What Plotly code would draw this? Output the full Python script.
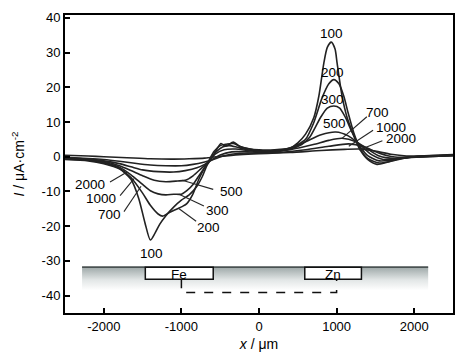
import plotly.graph_objects as go

# ---------------- data ----------------
heights = ["100", "200", "300", "500", "700", "1000", "2000"]

x_100 = [-2500, -2200, -2000, -1800, -1650, -1550, -1470, -1400, -1340, -1280, -1200, -1100, -1000, -900, -800, -730, -670, -620,
         -560, -490, -430, -330, -250, -130, 0, 200, 400, 500, 600, 707, 771, 835, 880, 931, 980, 1006, 1070, 1135, 1180, 1240,
         1307, 1400, 1520, 1650, 1800, 2000, 2200, 2500]
y_100 = [-0.8, -1.2, -2.0, -3.5, -6.5, -12, -19, -24, -22, -19.5, -17, -14.5, -12.5, -11, -8.5, -5.7, -2.5, -0.8,
         1.5, 3.8, 3.0, 4.2, 3.0, 2.3, 2.0, 2.0, 2.5, 4.0, 6.5, 11.3, 17.4, 26.9, 31.5, 33.0, 31.0, 27.0, 17.5, 11.3, 8.5, 5.0,
         1.8, -0.8, -2.2, -1.6, -0.6, 0.0, 0.3, 0.6]

x_200 = [-2500, -2200, -2000, -1800, -1650, -1500, -1400, -1300, -1240, -1150, -1050, -985, -930, -857, -770, -707, -643,
         -580, -500, -420, -330, -230, -120, 0, 200, 400, 500, 600, 700, 814, 900, 965, 1030, 1093, 1150, 1220, 1300, 1400,
         1550, 1700, 1900, 2100, 2500]
y_200 = [-0.6, -1.0, -1.8, -3.3, -6.0, -10.5, -14, -16.5, -17.1, -16, -15, -14.3, -13.5, -11, -6.2, -3.4, -1.0,
         1.5, 3.2, 3.6, 3.8, 2.8, 2.2, 1.8, 1.8, 2.5, 3.5, 5.0, 9.5, 17.0, 21.0, 22.2, 21.0, 17.4, 12.5, 7.0, 2.5, -0.5,
         -1.8, -1.3, -0.3, 0.2, 0.5]

x_300 = [-2500, -2200, -2000, -1800, -1650, -1500, -1400, -1300, -1200, -1100, -1000, -930, -850, -780, -710, -640,
         -560, -470, -380, -280, -150, 0, 200, 400, 550, 650, 793, 880, 965, 1040, 1114, 1200, 1300, 1400, 1550, 1700,
         1900, 2200, 2500]
y_300 = [-0.5, -0.9, -1.6, -3.0, -5.2, -8.0, -9.8, -10.7, -11, -10.8, -10.8, -9.8, -8.0, -5.7, -3.4, -1.2,
         1.2, 2.8, 3.2, 2.7, 2.0, 1.6, 1.6, 2.2, 3.5, 5.5, 11.3, 14.0, 14.6, 14.0, 11.3, 7.0, 3.0, 0.3, -1.2, -1.0,
         -0.2, 0.2, 0.4]

x_500 = [-2500, -2200, -2000, -1800, -1650, -1500, -1350, -1200, -1050, -950, -850, -750, -650, -560, -450, -300,
         -150, 0, 200, 400, 600, 800, 990, 1150, 1300, 1450, 1600, 1800, 2100, 2500]
y_500 = [-0.4, -0.8, -1.4, -2.6, -4.0, -5.5, -6.8, -7.2, -7.0, -6.8, -5.5, -3.5, -1.4, 0.8, 2.0, 2.2,
         1.8, 1.5, 1.6, 2.4, 4.3, 6.3, 7.1, 6.0, 3.5, 0.6, -0.8, -0.5, 0.0, 0.4]

x_700 = [-2500, -2200, -2000, -1800, -1650, -1500, -1300, -1100, -950, -800, -700, -620, -500, -350, -150, 0, 200,
         400, 700, 900, 1070, 1250, 1400, 1550, 1750, 2000, 2500]
y_700 = [-0.3, -0.7, -1.2, -2.0, -2.9, -3.8, -4.3, -4.4, -4.0, -3.2, -2.2, -1.1, 0.5, 1.4, 1.4, 1.3, 1.4,
         2.0, 3.5, 4.7, 5.3, 4.3, 2.2, 0.2, -0.5, -0.1, 0.3]

x_1000 = [-2500, -2200, -2000, -1800, -1600, -1400, -1200, -1000, -850, -700, -600, -450, -250, 0, 300, 600, 900,
          1157, 1350, 1550, 1750, 2000, 2500]
y_1000 = [-0.2, -0.5, -0.8, -1.3, -1.9, -2.4, -2.6, -2.6, -2.2, -1.5, -0.9, 0.3, 1.0, 1.1, 1.3, 2.0, 3.0,
          3.7, 2.9, 1.0, -0.1, -0.1, 0.3]

x_2000 = [-2500, -2200, -2000, -1700, -1400, -1100, -900, -700, -500, -250, 0, 400, 800, 1100, 1300, 1500, 1700,
          1900, 2200, 2500]
y_2000 = [0.4, 0.2, 0.0, -0.3, -0.6, -0.7, -0.6, -0.4, 0.1, 0.6, 0.9, 1.2, 1.8, 2.1, 2.2, 1.6, 0.7,
          0.2, 0.2, 0.4]

curves_x = [x_100, x_200, x_300, x_500, x_700, x_1000, x_2000]
curves_y = [y_100, y_200, y_300, y_500, y_700, y_1000, y_2000]

x_tickvals = [-2000, -1000, 0, 1000, 2000]
x_ticktext = ["-2000", "-1000", "0", "1000", "2000"]
y_tickvals = [-40, -30, -20, -10, 0, 10, 20, 30, 40]
y_ticktext = ["-40", "-30", "-20", "-10", "0", "10", "20", "30", "40"]

# curve labels: (text, label x, label y, leader from (x0,y0) to (x1,y1) or None)
labels = [
    ("100", 940, 35.6, None),
    ("200", 945, 24.3, None),
    ("300", 950, 16.6, None),
    ("500", 975, 9.6, None),
    ("700", 1530, 12.7, (1390, 11.5, 1070, 5.3)),
    ("1000", 1700, 8.5, (1470, 7.6, 1157, 3.0)),
    ("2000", 1830, 5.1, (1590, 4.6, 1290, 1.9)),
    ("2000", -2180, -8.1, (-1920, -7.3, -1700, -4.4)),
    ("1000", -2040, -11.9, (-1790, -11.2, -1610, -6.3)),
    ("700", -1930, -16.7, (-1740, -15.8, -1520, -8.5)),
    ("100", -1390, -28.0, None),
    ("500", -360, -10.0, (-590, -9.4, -990, -6.8)),
    ("300", -540, -15.4, (-710, -14.2, -1030, -10.8)),
    ("200", -650, -20.5, (-810, -18.6, -1030, -15.0)),
]

# substrate sketch (electrode positions)
substrate_x = [-2280, 2180]
substrate_top = -31.8
substrate_bottom = -38.5
fe_box = [-1465, -590]
zn_box = [590, 1320]
box_bottom = -35.3
wire_y = -39.1
wire_x = [-1000, 1000]

# ---------------- figure ----------------
FONT = "Liberation Sans, Arial, sans-serif"
fig = go.Figure()

fig.add_trace(go.Scatter(
    x=[substrate_x[0], substrate_x[1], substrate_x[1], substrate_x[0], substrate_x[0]],
    y=[substrate_top, substrate_top, substrate_bottom, substrate_bottom, substrate_top],
    fill="toself", mode="lines", line=dict(width=0),
    fillgradient=dict(type="vertical",
                      colorscale=[[0, "#ffffff"], [0.45, "#e2e6e6"], [1, "#9ea8a8"]]),
    hoverinfo="skip", showlegend=False))
fig.add_trace(go.Scatter(
    x=substrate_x, y=[substrate_top, substrate_top], mode="lines",
    line=dict(color="#4a5252", width=1.6), hoverinfo="skip", showlegend=False))

for name, xs, ys in zip(heights, curves_x, curves_y):
    fig.add_trace(go.Scatter(
        x=xs, y=ys, mode="lines", name=name,
        line=dict(color="#222222", width=1.6, shape="spline", smoothing=0.7),
        showlegend=False))

shapes = []
for bx in (fe_box, zn_box):
    shapes.append(dict(type="rect", xref="x", yref="y", x0=bx[0], x1=bx[1],
                       y0=box_bottom, y1=substrate_top,
                       line=dict(color="#111111", width=1.5), fillcolor="white"))
shapes.append(dict(type="path", xref="x", yref="y",
                   path=f"M {wire_x[0]} {box_bottom} L {wire_x[0]} {wire_y} L {wire_x[1]} {wire_y} L {wire_x[1]} {box_bottom}",
                   line=dict(color="#111111", width=1.5, dash="dash")))

LABEL_SIZE = 13.5
annotations = []
for text, lx, ly, lead in labels:
    annotations.append(dict(x=lx, y=ly, xref="x", yref="y", text=text, showarrow=False,
                            font=dict(family=FONT, size=LABEL_SIZE, color="black")))
    if lead is not None:
        shapes.append(dict(type="line", xref="x", yref="y", x0=lead[0], y0=lead[1], x1=lead[2], y1=lead[3],
                           line=dict(color="#262626", width=1.1)))

annotations.append(dict(x=(fe_box[0] + fe_box[1]) / 2, y=(substrate_top + box_bottom) / 2 - 0.3, xref="x", yref="y",
                        text="Fe", showarrow=False, font=dict(family=FONT, size=LABEL_SIZE, color="black")))
annotations.append(dict(x=(zn_box[0] + zn_box[1]) / 2, y=(substrate_top + box_bottom) / 2 - 0.3, xref="x", yref="y",
                        text="Zn", showarrow=False, font=dict(family=FONT, size=LABEL_SIZE, color="black")))

fig.update_layout(
    width=465, height=361,
    margin=dict(l=65, r=10, t=10, b=48),
    paper_bgcolor="white", plot_bgcolor="white",
    font=dict(family=FONT, size=13, color="black"),
    shapes=shapes, annotations=annotations,
    showlegend=False,
)
fig.update_xaxes(
    range=[-2500, 2500], tickvals=x_tickvals, ticktext=x_ticktext,
    ticks="inside", ticklen=5, tickwidth=1.5, tickcolor="black",
    tickfont=dict(family=FONT, size=13),
    showline=True, linecolor="black", linewidth=2, mirror=True,
    showgrid=False, zeroline=False,
    title=dict(text="<i>x</i> / μm", standoff=7, font=dict(family=FONT, size=14)),
)
fig.update_yaxes(
    range=[-45, 40.8], tickvals=y_tickvals, ticktext=y_ticktext,
    ticks="inside", ticklen=5, tickwidth=1.5, tickcolor="black",
    tickfont=dict(family=FONT, size=13),
    showline=True, linecolor="black", linewidth=2, mirror=True,
    showgrid=False, zeroline=False,
    title=dict(text="<i>I</i> / μA·cm<sup>-2</sup>", standoff=14, font=dict(family=FONT, size=14)),
)

fig.write_html("out.html", config={"displayModeBar": False},
               post_script="document.body.style.margin='0';document.body.style.padding='0';"
                           "document.documentElement.style.overflow='hidden';")
